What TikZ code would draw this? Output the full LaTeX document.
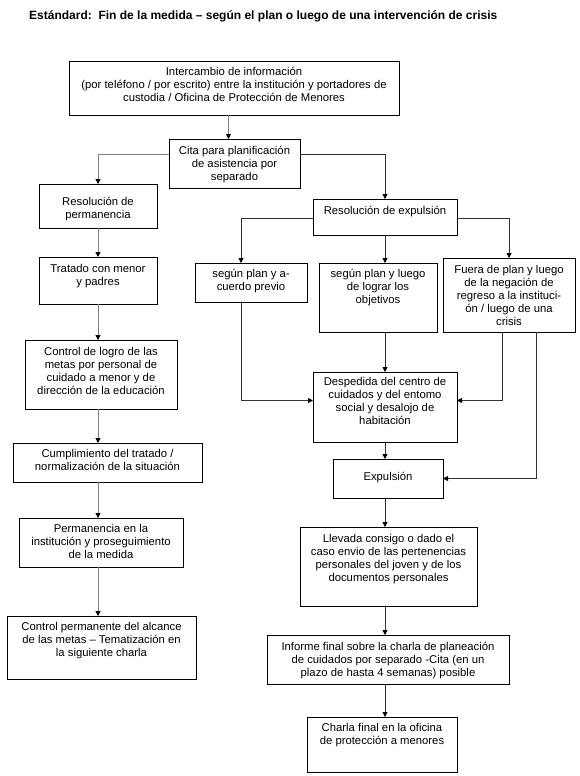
\documentclass[tikz,border=0pt]{standalone}
\usepackage{fontspec}
\setmainfont{Liberation Sans}
\usetikzlibrary{arrows.meta}
\newcommand{\bxt}[4]{\parbox[c][#2pt][t]{#1pt}{\fontsize{11.3}{13}\selectfont\centering\vspace*{#3pt}\strut#4}}
\tikzset{
  box/.style={draw=black, line width=0.9pt, inner sep=0pt, outer sep=0pt, anchor=north west},
  arrL/.style={draw=black!50, line width=1pt, -{Triangle[length=5pt,width=5pt,color=black,fill=black]}},
  arrR/.style={draw=black!80, line width=0.9pt, -{Triangle[length=5pt,width=5pt,color=black,fill=black]}}
}
\begin{document}
\begin{tikzpicture}[x=1pt,y=-1pt]
\useasboundingbox[fill=white] (0,0) rectangle (580,776);
\node[anchor=west, inner sep=0pt, font=\fontsize{12}{14}\selectfont\bfseries] (title) at (29,16) {Estándard:\ \ Fin de la medida – según el plan o luego de una intervención de crisis};

\node[box] (info) at (69,61) {\bxt{330}{54}{5.4}{Intercambio de información\\(por teléfono / por escrito) entre la institución y portadores de\\custodia / Oficina de Protección de Menores}};
\node[box] (cita) at (169,139) {\bxt{131}{49}{6.4}{Cita para planificación\\de asistencia por\\separado}};
\node[box] (perm) at (39,184) {\bxt{118}{44}{12.4}{Resolución de\\permanencia}};
\node[box] (trat) at (39,257) {\bxt{118}{47}{6.4}{Tratado con menor\\y padres}};
\node[box] (ctrl) at (25,340) {\bxt{152}{69}{6.4}{Control de logro de las\\metas por personal de\\cuidado a menor y de\\dirección de la educación}};
\node[box] (cumpl) at (13,443) {\bxt{189}{39}{5.4}{Cumplimiento del tratado /\\normalización de la situación}};
\node[box] (perman) at (19,518) {\bxt{164}{49}{5.4}{Permanencia en la\\institución y proseguimiento\\de la medida}};
\node[box] (ctrlp) at (7,616) {\bxt{189}{63}{5.4}{Control permanente del alcance\\de las metas – Tematización en\\la siguiente charla}};

\node[box] (expres) at (313,199) {\bxt{144}{36}{6.4}{Resolución de expulsión}};
\node[box] (acuerdo) at (195,263) {\bxt{112}{39}{5.4}{según plan y a-\\cuerdo previo}};
\node[box] (lograr) at (319,263) {\bxt{118}{69}{5.4}{según plan y luego\\de lograr los\\objetivos}};
\node[box] (fuera) at (443,258) {\bxt{132}{74}{6.4}{Fuera de plan y luego\\de la negación de\\regreso a la instituci-\\ón / luego de una\\crisis}};
\node[box] (desp) at (313,372) {\bxt{144}{70}{4.4}{Despedida del centro de\\cuidados y del entomo\\social y desalojo de\\habitación}};
\node[box] (expu) at (333,459) {\bxt{110}{39}{12.4}{Expulsión}};
\node[box] (llev) at (300,527) {\bxt{177}{79}{6.4}{Llevada consigo o dado el\\caso envio de las pertenencias\\personales del joven y de los\\documentos personales}};
\node[box] (inf) at (267,635) {\bxt{242}{49}{6.4}{Informe final sobre la charla de planeación\\de cuidados por separado -Cita (en un\\plazo de hasta 4 semanas) posible}};
\node[box] (charla) at (307,717) {\bxt{150}{55}{5.4}{Charla final en la oficina\\de protección a menores}};

% left side
\draw[arrL] ([xshift=-5.5pt]info.south) -- ([xshift=-5.5pt]info.south |- cita.north);
\draw[arrL] ([yshift=9.5pt]cita.west) -| (perm.north);
\draw[arrL] (perm.south) -- (trat.north);
\draw[arrL] (trat.south) -- (trat.south |- ctrl.north);
\draw[arrL] (ctrl.south -| trat.south) -- (cumpl.north -| trat.south);
\draw[arrL] (cumpl.south -| trat.south) -- (perman.north -| trat.south);
\draw[arrL] (perman.south -| trat.south) -- (ctrlp.north -| trat.south);

% right side
\draw[arrR] ([yshift=9.5pt]cita.east) -| (expres.north);
\draw[arrR] ([yshift=-1.5pt]expres.west) -| ([xshift=-10pt]acuerdo.north);
\draw[arrR] ([yshift=-1.5pt]expres.east) -| (fuera.north);
\draw[arrR] (expres.south) -- (expres.south |- lograr.north);
\draw[arrR] (lograr.south -| expres.south) -- (desp.north);
\draw[arrR] ([xshift=-10pt]acuerdo.south) |- ([yshift=6.5pt]desp.west);
\draw[arrR] ([xshift=-7pt]fuera.south) |- ([yshift=6.5pt]desp.east);
\draw[arrR] ([xshift=27pt]fuera.south) |- (expu.east);
\draw[arrR] (desp.south) -- (desp.south |- expu.north);
\draw[arrR] (expu.south -| desp.south) -- (llev.north -| desp.south);
\draw[arrR] (llev.south -| desp.south) -- (inf.north -| desp.south);
\draw[arrR] (inf.south -| desp.south) -- (charla.north -| desp.south);
\end{tikzpicture}
\end{document}
